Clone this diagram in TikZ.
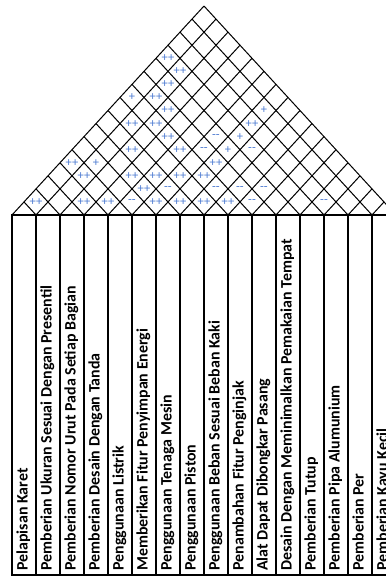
\documentclass[tikz,border=0pt]{standalone}
\usepackage{fontspec}
\setmainfont{Carlito}
\definecolor{corrblue}{RGB}{80,125,210}
\tikzset{
    roofline/.style={black, line width=0.6pt},
    tableline/.style={black, line width=1.3pt},
    colhead/.style={rotate=90, anchor=base west, inner sep=0pt, font=\fontsize{9.45}{11}\selectfont\bfseries},
    corr/.style={text=corrblue, inner sep=0pt, font=\fontsize{7.4}{8}\selectfont}
}
\begin{document}
\begin{tikzpicture}[x=0.5cm, y=0.5cm]
    \useasboundingbox (0,0) rectangle (16.083,24.042);
    \clip (0,0) rectangle (16.083,24.042);
    \def\by{15.083}
    \def\hs{1.0885}
    \foreach \k in {0,...,16}{
    \draw[roofline] (0.5+\k,\by) -- ({(17+\k)/2},{\by+\hs*(16-\k)/2});
    \draw[roofline] (0.5+\k,\by) -- ({(1+\k)/2},{\by+\hs*\k/2});
    }
    \foreach \i/\j/\sym in {1/2/++, 3/4/++, 4/5/++, 5/6/-{}-, 6/7/++, 7/8/++, 8/9/++, 9/10/++, 10/11/-{}-, 13/14/-{}-,
        5/7/++, 6/8/-{}-, 8/10/-{}-, 9/11/-{}-, 10/12/-{}-,
        2/5/++, 4/7/++, 5/8/++, 6/9/++, 7/10/++,
        1/5/++, 2/6/+, 7/11/++,
        3/8/++, 5/10/++, 6/11/-{}-, 7/12/+, 8/13/-{}-,
        4/10/++, 6/12/-{}-, 7/13/+,
        2/9/++, 3/10/++, 7/14/++,
        3/11/++, 7/15/+,
        1/10/+, 2/11/++,
        2/12/++, 2/13/++, 1/13/++}
    \node[corr] (c\i-\j) at ({(\i+\j)/2},{\by+\hs*(\j-\i)/2}) {\sym};
    \draw[tableline] (0.5,0.083) rectangle (16.5,\by);
    \foreach \k in {1,...,15}
    \draw[tableline] (0.5+\k,0.083) -- (0.5+\k,\by);
    \foreach \t [count=\n] in {Pelapisan Karet, Pemberian Ukuran Sesuai Dengan Presentil,
        Pemberian Nomor Urut Pada Setiap Bagian, Pemberian Desain Dengan Tanda,
        Penggunaan Listrik, Memberikan Fitur Penyimpan Energi, Penggunaan Tenaga Mesin,
        Penggunaan Piston, Penggunaan Beban Sesuai Beban Kaki, Penambahan Fitur Penginjak,
        Alat Dapat Dibongkar Pasang, Desain Dengan Meminimalkan Pemakaian Tempat,
        Pemberian Tutup, Pemberian Pipa Alumunium, Pemberian Per, Pemberian Kayu Kecil}
    \node[colhead] (h\n) at (\n-0.5+0.646,0.25) {\t};
\end{tikzpicture}
\end{document}
